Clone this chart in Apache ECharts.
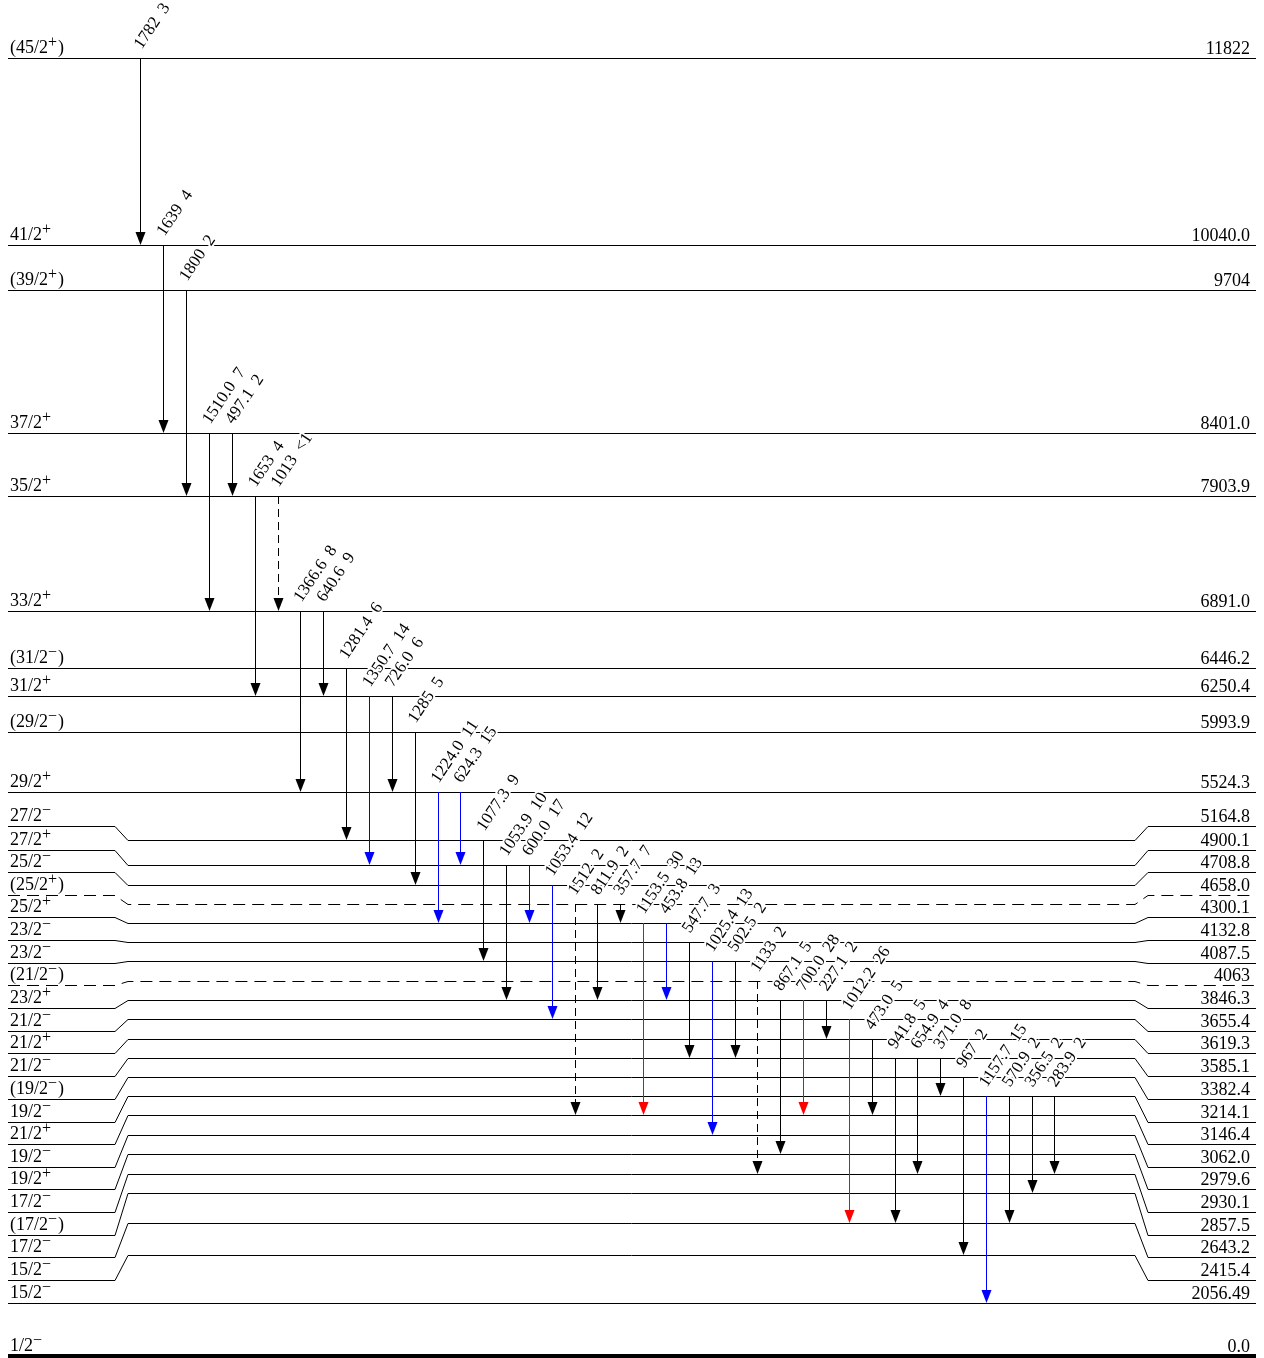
<!DOCTYPE html>
<html>
<head>
<meta charset="utf-8">
<script src="https://cdn.jsdelivr.net/npm/echarts@6/dist/echarts.min.js"></script>
<style>html,body{margin:0;padding:0;background:#fff}#c{width:1264px;height:1358px}</style>
</head>
<body>
<div id="c"></div>
<script>
// ================= DATA =================
// Levels (top to bottom): excitation energy (keV, as printed) and spin-parity
const levelEnergy = ['11822','10040.0','9704','8401.0','7903.9','6891.0','6446.2','6250.4','5993.9','5524.3',
  '5164.8','4900.1','4708.8','4658.0','4300.1','4132.8','4087.5','4063','3846.3','3655.4','3619.3','3585.1',
  '3382.4','3214.1','3146.4','3062.0','2979.6','2930.1','2857.5','2643.2','2415.4','2056.49','0.0'];
const levelSpin = ['(45/2+)','41/2+','(39/2+)','37/2+','35/2+','33/2+','(31/2−)','31/2+','(29/2−)','29/2+',
  '27/2−','27/2+','25/2−','(25/2+)','25/2+','23/2−','23/2−','(21/2−)','23/2+','21/2−','21/2+','21/2−',
  '(19/2−)','19/2−','21/2+','19/2−','19/2+','17/2−','(17/2−)','17/2−','15/2−','15/2−','1/2−'];
const levelTentative = [13, 17];

// Transitions (left to right): gamma energy, relative intensity, initial/final level index
const transEnergy = ['1782','1639','1800','1510.0','497.1','1653','1013','1366.6','640.6','1281.4',
  '1350.7','726.0','1285','1224.0','624.3','1077.3','1053.9','600.0','1053.4','1512',
  '811.9','357.7','1153.5','453.8','547.7','1025.4','502.5','1133','867.1','700.0',
  '227.1','1012.2','473.0','941.8','654.9','371.0','967','1157.7','570.9','356.5','283.9'];
const transIntensity = ['3','4','2','7','2','4','<1','8','9','6',
  '14','6','5','11','15','9','10','17','12','2',
  '2','7','30','13','3','13','2','2','5','28',
  '2','26','5','5','4','8','2','15','2','2','2'];
const transFrom = [0,1,2,3,3,4,4,5,5,6, 7,7,8,9,9,10,11,11,12,13, 13,13,14,14,15,16,16,17,18,18, 18,19,20,21,21,21,22,23,23,23,23];
const transTo   = [1,3,4,5,4,7,5,9,7,10, 11,9,12,14,11,16,18,14,19,24, 18,14,24,18,21,25,21,27,26,24, 20,29,24,29,27,23,30,31,29,28,27];
const transType = ['k','k','k','k','k','k','k','k','k','k', 'b','k','k','b','b','k','k','b','b','k',
  'k','k','r','b','k','b','k','k','k','r', 'k','r','k','k','k','k','k','b','k','k','k'];
const transDashed = [6, 19, 27];

// ================= LAYOUT (drawing only) =================
const levelYEnd = [58,245,290,433,496,611,668,696,732,792,
  826,850,872,895,917,940,963,985,1008,1031,1053,1076,1099,1122,1144,1167,1189,1212,1235,1257,1280,1303,1356];
const levelYMid = [58,245,290,433,496,611,668,696,732,792,
  840,865,885,904,923,942,961,981,1000,1019,1039,1058,1077,1096,1115,1135,1154,1174,1193,1223,1255,1303,1356];

const W = 1264, H = 1358;
const COL_PX0 = 141, COL_PITCH = 22.85;
const toCol = px => (px - COL_PX0) / COL_PITCH;
const LX = {left: 8, l0: 115, l1: 128, r0: 1135, r1: 1148, right: 1256, spin: 10, energy: 1250};
const FONT = '"Liberation Serif","Times New Roman","DejaVu Serif",serif';
const COLORS = {k: '#000000', b: '#0000ff', r: '#ff0000'};
const ANGLE = 56 * Math.PI / 180;

function crisp(v) { return Math.round(v - 0.5) + 0.5; }
function spinRich(s) {
  const m = s.match(/^(.*?)([+−])(\)?)$/);
  if (!m) return '{n|' + s + '}';
  return '{n|' + m[1] + '}{s|' + m[2] + '}' + (m[3] ? '{n|' + m[3] + '}' : '');
}

function renderLevel(params, api) {
  const i = params.dataIndex;
  const yE = api.value(0), yM = api.value(1);
  const P = (px, y) => api.coord([toCol(px), y]);
  const thick = i === levelEnergy.length - 1;
  let pts = (yE === yM)
    ? [P(LX.left, yE), P(LX.right, yE)]
    : [P(LX.left, yE), P(LX.l0, yE), P(LX.l1, yM), P(LX.r0, yM), P(LX.r1, yE), P(LX.right, yE)];
  if (!thick) pts = pts.map(p => [p[0], crisp(p[1])]);
  const dashed = levelTentative.indexOf(i) >= 0;
  const ys = api.coord([0, yE])[1];
  return {
    type: 'group',
    children: [
      {type: 'polyline', shape: {points: pts},
        style: {stroke: '#000', fill: null, lineWidth: thick ? 4 : 1, lineDash: dashed ? [12, 7] : null}},
      {type: 'text', x: P(LX.spin, yE)[0], y: ys - 1,
        style: {text: spinRich(levelSpin[i]), align: 'left', verticalAlign: 'bottom', fill: '#000',
          rich: {n: {fontSize: 18, fontFamily: FONT, lineHeight: 22, verticalAlign: 'bottom', fill: '#000'},
                 s: {fontSize: 16, fontFamily: FONT, verticalAlign: 'top', fill: '#000', padding: [0, 1, 0, 0]}}}},
      {type: 'text', x: P(LX.energy, yE)[0], y: ys,
        style: {text: levelEnergy[i], align: 'right', verticalAlign: 'bottom', fill: '#000',
          font: '18px ' + FONT}}
    ]
  };
}

function renderTrans(params, api) {
  const i = params.dataIndex;
  const x = crisp(api.coord([api.value(0), 0])[0]);
  const y1 = api.coord([0, api.value(1)])[1];
  const y2 = api.coord([0, api.value(2)])[1];
  const c = COLORS[transType[i]];
  const hl = 13, hw = 5;
  return {
    type: 'group',
    children: [
      {type: 'line', shape: {x1: x, y1: y1, x2: x, y2: y2 - hl + 1},
        style: {stroke: c, lineWidth: 1, lineDash: transDashed.indexOf(i) >= 0 ? [8, 5] : null}},
      {type: 'polygon', shape: {points: [[x - hw, y2 - hl], [x + hw, y2 - hl], [x, y2]]},
        style: {fill: c, stroke: null}}
    ]
  };
}

function renderTransLabel(params, api) {
  const i = params.dataIndex;
  const x = api.coord([api.value(0), 0])[0];
  const y1 = api.coord([0, api.value(1)])[1];
  return {
    type: 'text', x: x + 4, y: y1 - 6, rotation: ANGLE,
    style: {text: transEnergy[i] + '  ' + transIntensity[i], align: 'left', verticalAlign: 'bottom',
      font: '17px ' + FONT, fill: '#000', stroke: '#fff', lineWidth: 4}
  };
}

const levelData = levelEnergy.map((e, i) => [levelYEnd[i], levelYMid[i]]);
const transData = transEnergy.map((e, i) => [i, levelYMid[transFrom[i]], levelYMid[transTo[i]]]);

const chart = echarts.init(document.getElementById('c'), null, {renderer: 'canvas'});
chart.setOption({
  animation: false,
  backgroundColor: '#fff',
  grid: {left: 0, right: 0, top: 0, bottom: 0, containLabel: false},
  xAxis: {type: 'value', min: toCol(0), max: toCol(W), show: false},
  yAxis: {type: 'value', min: 0, max: H, inverse: true, show: false},
  series: [
    {type: 'custom', renderItem: renderLevel, data: levelData, silent: true, clip: false, z: 1},
    {type: 'custom', renderItem: renderTrans, data: transData, silent: true, clip: false, z: 2},
    {type: 'custom', renderItem: renderTransLabel, data: transData, silent: true, clip: false, z: 3}
  ]
});
</script>
</body>
</html>
